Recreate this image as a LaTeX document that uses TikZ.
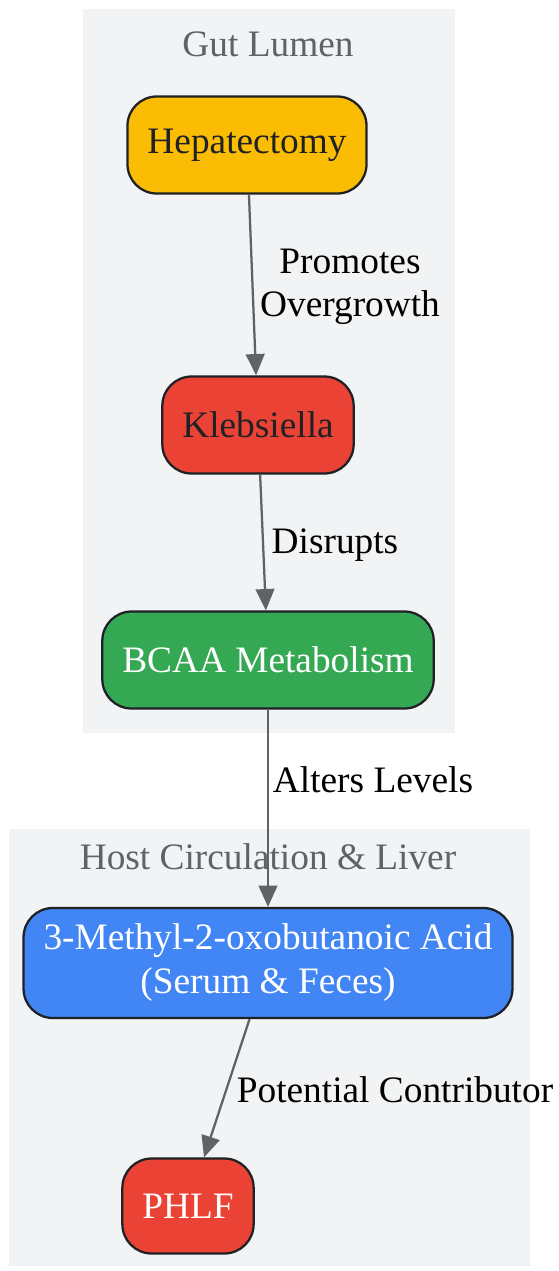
\documentclass[tikz,border=0pt]{standalone}
\usepackage{fontspec}
\setmainfont{Liberation Serif}
\usepackage{tikz}
\usetikzlibrary{positioning,shapes,arrows.meta}
\usepackage{xcolor}
\definecolor{gyellow}{HTML}{FBBC04}
\definecolor{gred}{HTML}{EA4335}
\definecolor{ggreen}{HTML}{34A853}
\definecolor{gblue}{HTML}{4285F4}
\definecolor{gedge}{HTML}{5F6368}
\definecolor{gcluster}{HTML}{F1F3F4}
\definecolor{gborder}{HTML}{202124}
\tikzstyle{stepnode}=[rectangle, draw=gborder, line width=1.7pt, rounded corners=22pt,
text centered, align=center, minimum height=72.75pt, inner xsep=15pt,
font=\fontsize{28}{33}\selectfont]
\tikzstyle{cluster}=[fill=gcluster]
\tikzstyle{clusterlabel}=[text=gedge, font=\fontsize{28}{33}\selectfont]
\tikzstyle{edgelabel}=[text=black, align=center, font=\fontsize{28}{32}\selectfont]
\tikzstyle{link}=[draw=gedge, line width=1.7pt, -{Triangle[length=16pt,width=14pt]}]

\begin{document}
\begin{tikzpicture}[x=0.75pt, y=-0.75pt]
            \useasboundingbox (0,0) rectangle (558,1271);
            % clusters
            \fill[cluster] (83,9) rectangle (455,733);
            \fill[cluster] (9,829) rectangle (530,1266);
            \node (gutlabel)[clusterlabel] at (268,44) {Gut Lumen};
            \node (hostlabel)[clusterlabel] at (268,857) {Host Circulation \& Liver};

            \node (hep)[stepnode, fill=gyellow, text=gborder] at (247,145) {Hepatectomy};
            \node (kleb)[stepnode, fill=gred, text=gborder] at (258,425) {Klebsiella};
            \node (bcaa)[stepnode, fill=ggreen, text=white] at (268,660) {BCAA Metabolism};
            \node (acid)[stepnode, fill=gblue, text=white, minimum height=82.5pt] at (268,963)
                {3-Methyl-2-oxobutanoic Acid\\(Serum \& Feces)};
            \node (phlf)[stepnode, fill=gred, text=white, minimum height=71.25pt] at (188,1206) {PHLF};

            % connectors
            \draw[link] (hep) -- (kleb);
            \draw[link] (kleb) -- (bcaa);
            \draw[link] (bcaa) -- (acid);
            \draw[link] (acid) -- (phlf);

            \node (promotes)[edgelabel] at (350,287) {Promotes\\Overgrowth};
            \node (disrupts)[edgelabel] at (335,545) {Disrupts};
            \node (alters)[edgelabel] at (373,780) {Alters Levels};
            \node (contrib)[edgelabel] at (395,1090) {Potential Contributor};
        \end{tikzpicture}
\end{document}
